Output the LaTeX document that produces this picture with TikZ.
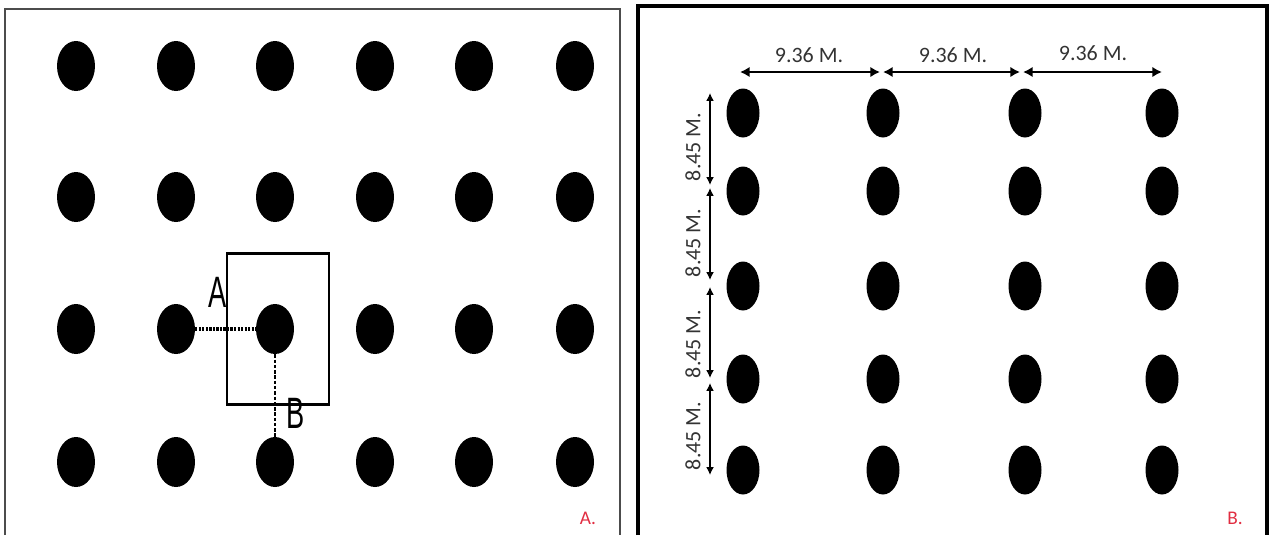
\documentclass[tikz,border=0pt]{standalone}
\usepackage{fontspec}
\setmainfont{Carlito}
\newfontfamily\letterfont[FakeStretch=0.62]{Liberation Sans}
\usetikzlibrary{shapes.geometric, arrows.meta}
\definecolor{tagred}{RGB}{225,45,65}
\tikzstyle{dotA} = [ellipse, fill=black, inner sep=0pt, minimum width=0.76cm, minimum height=1.0cm]
\tikzstyle{dotB} = [ellipse, fill=black, inner sep=0pt, minimum width=0.66cm, minimum height=0.98cm]
\tikzstyle{dimtext} = [font=\fontsize{12.5}{15}\selectfont, text=black!80, inner sep=0pt]
\tikzstyle{tag} = [font=\fontsize{11}{13}\selectfont, text=tagred, inner sep=0pt]
\tikzstyle{letter} = [font=\letterfont\fontsize{25}{30}\selectfont, inner sep=0pt]
\tikzstyle{harrow} = [line width=1.4pt, {Latex[length=5.5pt,width=6pt]}-{Latex[length=5.5pt,width=6pt]}]
\tikzstyle{varrow} = [line width=0.8pt, {Latex[length=4.5pt,width=4.5pt]}-{Latex[length=4.5pt,width=4.5pt]}]

\begin{document}
\begin{tikzpicture}[x=0.02cm, y=-0.02cm]
\useasboundingbox (0,0) rectangle (1271,535);

% panel A: square grid
\draw[black!70, line width=1.2pt] (5,535) -- (5,9) -- (620,9) -- (620,535);
\foreach \c/\x in {1/76,2/176,3/275,4/375,5/474,6/575}
  \foreach \r/\y in {1/66,2/197,3/329,4/462}
    \node (a\c\r) [dotA] at (\x,\y) {};
\draw[line width=1.7pt] (227,253) rectangle (329,404);
\draw[line width=2pt, dash pattern=on 1.2pt off 0.8pt] (a23) -- (a33);
\draw[line width=1.2pt, dash pattern=on 2pt off 1pt] (a33) -- (a34);
\node (lblA) [letter] at (218,292) {A};
\node (lblB) [letter] at (296,413) {B};
\node (tagA) [tag] at (588,518) {A.};

% panel B: measured spacing
\draw[line width=1.8pt] (638,535) -- (638,6) -- (1267,6) -- (1267,535);
\foreach \c/\x in {1/743,2/883,3/1025,4/1162}
  \foreach \r/\y in {1/113,2/191,3/286,4/379,5/470}
    \node (b\c\r) [dotB] at (\x,\y) {};

\coordinate (h0) at (740,72);
\coordinate (h1a) at (880,72);
\coordinate (h1b) at (883,72);
\coordinate (h2a) at (1020,72);
\coordinate (h2b) at (1023,72);
\coordinate (h3) at (1162,72);
\draw [harrow] (h0) -- (h1a);
\draw [harrow] (h1b) -- (h2a);
\draw [harrow] (h2b) -- (h3);
\node (d1) [dimtext] at (809,55) {9.36 M.};
\node (d2) [dimtext] at (953,55) {9.36 M.};
\node (d3) [dimtext] at (1093,53) {9.36 M.};

\coordinate (v0) at (710,93);
\coordinate (v1a) at (710,185);
\coordinate (v1b) at (710,188);
\coordinate (v2a) at (710,280);
\coordinate (v2b) at (710,287);
\coordinate (v3a) at (710,378);
\coordinate (v3b) at (710,383);
\coordinate (v4) at (710,475);
\draw [varrow] (v0) -- (v1a);
\draw [varrow] (v1b) -- (v2a);
\draw [varrow] (v2b) -- (v3a);
\draw [varrow] (v3b) -- (v4);
\node (e1) [dimtext, rotate=90] at (693,147) {8.45 M.};
\node (e2) [dimtext, rotate=90] at (693,243) {8.45 M.};
\node (e3) [dimtext, rotate=90] at (693,344) {8.45 M.};
\node (e4) [dimtext, rotate=90] at (693,436) {8.45 M.};
\node (tagB) [tag] at (1235,518) {B.};
\end{tikzpicture}
\end{document}
